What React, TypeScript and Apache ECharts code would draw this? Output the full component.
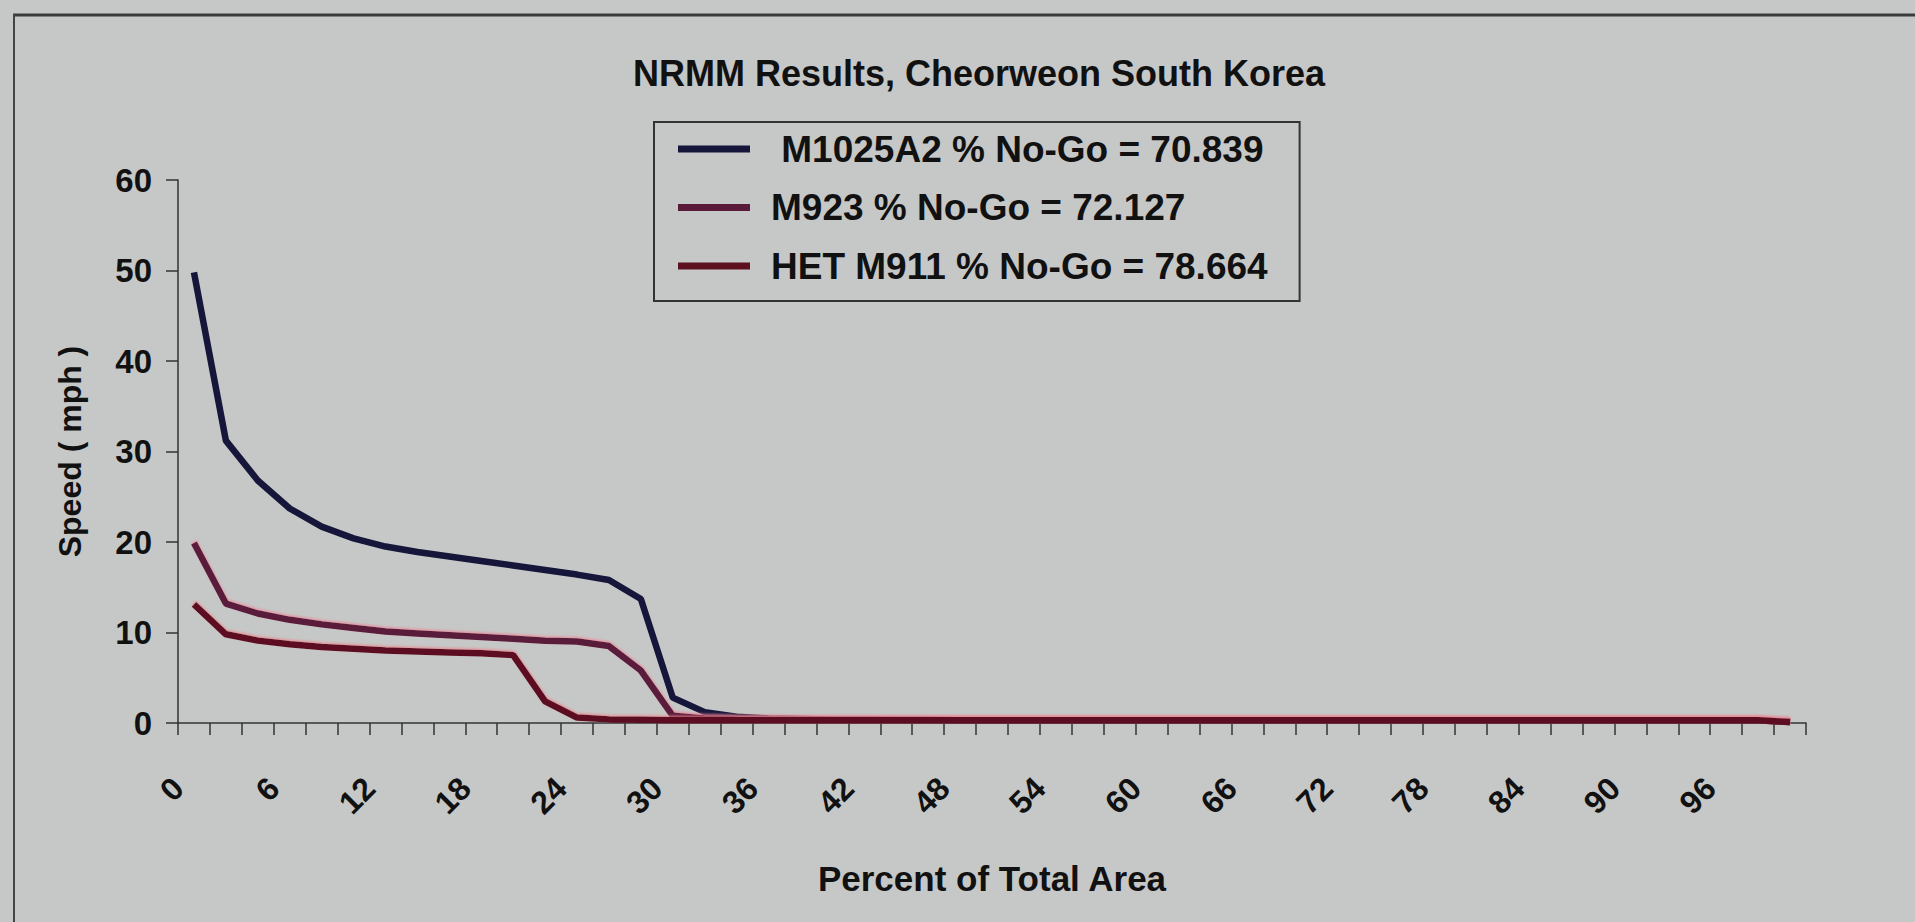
import React, { useEffect, useRef } from "react";
import * as echarts from "echarts";

// Percent of total area (category starts, 2% bins)
const percentCategories = [
  0, 2, 4, 6, 8, 10, 12, 14, 16, 18, 20, 22, 24, 26, 28, 30, 32, 34, 36, 38,
  40, 42, 44, 46, 48, 50, 52, 54, 56, 58, 60, 62, 64, 66, 68, 70, 72, 74, 76,
  78, 80, 82, 84, 86, 88, 90, 92, 94, 96, 98, 100,
];

const seriesNames = [
  " M1025A2 % No-Go = 70.839",
  "M923 % No-Go = 72.127",
  "HET M911 % No-Go = 78.664",
];

const m1025a2Speed = [
  49.8, 31.2, 26.8, 23.7, 21.7, 20.4, 19.5, 18.9, 18.4, 17.9, 17.4, 16.9, 16.4,
  15.8, 13.7, 2.8, 1.2, 0.7, 0.5, 0.45, 0.4, 0.4, 0.35, 0.35, 0.3, 0.3, 0.3,
  0.3, 0.3, 0.3, 0.3, 0.3, 0.3, 0.3, 0.3, 0.3, 0.3, 0.3, 0.3, 0.3, 0.3, 0.3,
  0.3, 0.3, 0.3, 0.3, 0.3, 0.3, 0.3, 0.3, 0.1,
];

const m923Speed = [
  19.9, 13.2, 12.1, 11.4, 10.9, 10.5, 10.1, 9.9, 9.7, 9.5, 9.3, 9.1, 9.0, 8.5,
  5.8, 0.8, 0.5, 0.4, 0.35, 0.3, 0.3, 0.3, 0.3, 0.3, 0.3, 0.3, 0.3, 0.3, 0.3,
  0.3, 0.3, 0.3, 0.3, 0.3, 0.3, 0.3, 0.3, 0.3, 0.3, 0.3, 0.3, 0.3, 0.3, 0.3,
  0.3, 0.3, 0.3, 0.3, 0.3, 0.3, 0.1,
];

const m911Speed = [
  13.1, 9.8, 9.1, 8.7, 8.4, 8.2, 8.0, 7.9, 7.8, 7.7, 7.5, 2.4, 0.6, 0.4, 0.35,
  0.3, 0.3, 0.3, 0.3, 0.3, 0.3, 0.3, 0.3, 0.3, 0.3, 0.3, 0.3, 0.3, 0.3, 0.3,
  0.3, 0.3, 0.3, 0.3, 0.3, 0.3, 0.3, 0.3, 0.3, 0.3, 0.3, 0.3, 0.3, 0.3, 0.3,
  0.3, 0.3, 0.3, 0.3, 0.3, 0.1,
];

const xTickLabels = [
  "0", "6", "12", "18", "24", "30", "36", "42", "48", "54", "60", "66", "72",
  "78", "84", "90", "96",
];

const seriesColors = ["#15163a", "#5a1a3a", "#5c1020"];
const seriesGlow = ["rgba(0,0,0,0)", "rgba(235,130,150,0.7)", "rgba(235,130,140,0.7)"];

const FONT = "'Liberation Sans', Arial, Helvetica, sans-serif";

export default function App() {
  const ref = useRef<HTMLDivElement>(null);

  useEffect(() => {
    if (!ref.current) return;
    const chart = echarts.init(ref.current, undefined, { renderer: "svg" });

    // Each 2% bin is drawn at its centre (start + 1) so ticks sit on bin edges.
    const toPoints = (vals: number[]) =>
      percentCategories.map((p, i) => [p + 1, vals[i]]);

    const allSeries = [m1025a2Speed, m923Speed, m911Speed];

    chart.setOption({
      animation: false,
      backgroundColor: "#c6c8c7",
      title: {
        text: "NRMM Results, Cheorweon South Korea",
        left: 633,
        top: 55,
        padding: 0,
        textStyle: {
          fontFamily: FONT,
          fontWeight: "bold",
          fontSize: 36,
          color: "#111",
        },
      },
      legend: {
        orient: "vertical",
        left: 654,
        top: 122,
        padding: [7, 32, 15, 24],
        itemGap: 18.5,
        itemWidth: 72,
        itemHeight: 7,
        icon: "rect",
        borderColor: "#333",
        borderWidth: 2,
        backgroundColor: "transparent",
        data: seriesNames,
        textStyle: {
          fontFamily: FONT,
          fontWeight: "bold",
          fontSize: 37,
          lineHeight: 40,
          color: "#111",
          padding: [0, 0, 0, 16],
        },
      },
      grid: {
        left: 178,
        right: 109,
        top: 180,
        bottom: 199,
        containLabel: false,
      },
      xAxis: {
        type: "value",
        min: 0,
        max: 102,
        interval: 2,
        name: "Percent of Total Area",
        nameLocation: "middle",
        nameGap: 138,
        nameTextStyle: {
          fontFamily: FONT,
          fontWeight: "bold",
          fontSize: 35,
          color: "#111",
        },
        axisLine: { show: true, lineStyle: { color: "#333", width: 1.5 } },
        axisTick: {
          show: true,
          inside: false,
          length: 12,
          lineStyle: { color: "#333", width: 1.5 },
        },
        splitLine: { show: false },
        axisLabel: {
          rotate: 45,
          margin: 60,
          fontFamily: FONT,
          fontWeight: "bold",
          fontSize: 32,
          color: "#111",
          showMaxLabel: true,
          showMinLabel: true,
          formatter: (v: number) => {
            const s = String(Math.round(v));
            return xTickLabels.includes(s) ? s : "";
          },
        },
      },
      yAxis: {
        type: "value",
        min: 0,
        max: 60,
        interval: 10,
        name: "Speed ( mph )",
        nameLocation: "middle",
        nameGap: 92,
        nameTextStyle: {
          fontFamily: FONT,
          fontWeight: "bold",
          fontSize: 32,
          color: "#111",
        },
        axisLine: { show: true, lineStyle: { color: "#333", width: 1.5 } },
        axisTick: {
          show: true,
          inside: false,
          length: 12,
          lineStyle: { color: "#333", width: 1.5 },
        },
        splitLine: { show: false },
        axisLabel: {
          margin: 26,
          fontFamily: FONT,
          fontWeight: "bold",
          fontSize: 33,
          color: "#111",
        },
      },
      graphic: [
        {
          type: "line",
          shape: { x1: 13, y1: 15, x2: 1915, y2: 15 },
          style: { stroke: "#3a3a3a", lineWidth: 3 },
        },
        {
          type: "line",
          shape: { x1: 14, y1: 14, x2: 14, y2: 922 },
          style: { stroke: "#444", lineWidth: 2 },
        },
      ],
      series: allSeries.map((vals, i) => ({
        name: seriesNames[i],
        type: "line",
        data: toPoints(vals),
        showSymbol: false,
        symbol: "none",
        color: seriesColors[i],
        lineStyle: {
          color: seriesColors[i],
          width: 6.5,
          shadowColor: seriesGlow[i],
          shadowBlur: i === 0 ? 0 : 2,
          shadowOffsetY: i === 0 ? 0 : -1.5,
        },
        z: 2 + i,
      })),
    });

    return () => chart.dispose();
  }, []);

  return (
    <div
      style={{
        position: "fixed",
        left: 0,
        top: 0,
        width: 1915,
        height: 922,
        background: "#c6c8c7",
      }}
    >
      <div ref={ref} style={{ width: 1915, height: 922 }} />
    </div>
  );
}
